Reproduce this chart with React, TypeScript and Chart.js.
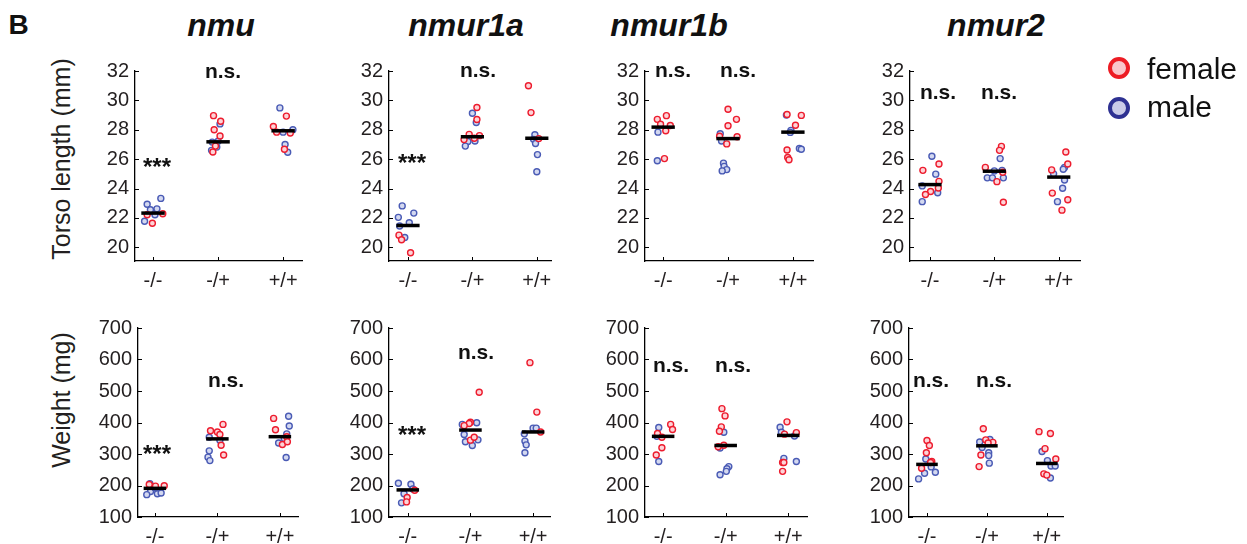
import React, { useEffect, useRef } from 'react';
import { Chart, registerables } from 'chart.js';

Chart.register(...registerables);

// ---------- data ----------
const genotypes = ['-/-', '-/+', '+/+'];
const torsoTicks = [20, 22, 24, 26, 28, 30, 32];
const weightTicks = [100, 200, 300, 400, 500, 600, 700];
const panelTitles = ['nmu', 'nmur1a', 'nmur1b', 'nmur2'];
const rowTitles = ['Torso length (mm)', 'Weight (mg)'];
const legendLabels = ['female', 'male'];

// nmu – torso length
const nmuTorsoFemale = [[22.22, 22.29, 21.64], [28.96, 28.58, 28.0, 27.58, 26.89, 26.49], [28.93, 28.22, 27.84, 27.78, 26.67]];
const nmuTorsoFemaleJitter = [[-0.09, 0.15, -0.01], [-0.07, 0.04, -0.06, 0.03, -0.04, -0.08], [0.05, -0.15, -0.1, 0.11, 0.02]];
const nmuTorsoMale = [[22.93, 23.33, 22.56, 22.62, 22.22, 21.78], [28.4, 27.16, 27.22, 26.6, 26.82], [29.49, 28.0, 27.0, 26.47, 27.84]];
const nmuTorsoMaleJitter = [[-0.09, 0.12, -0.04, 0.06, 0.03, -0.13], [0.03, -0.09, 0, -0.1, -0.02], [-0.05, 0.15, 0.03, 0.07, 0]];
const nmuTorsoMedian = [22.33, 27.18, 27.93];

// nmur1a – torso length
const nmur1aTorsoFemale = [[20.83, 20.52, 19.63], [29.52, 28.7, 27.69, 27.6, 27.33, 27.42], [31.0, 29.17, 27.4]];
const nmur1aTorsoFemaleJitter = [[-0.14, -0.1, 0.04], [0.07, 0.07, -0.05, 0.11, -0.13, 0.03], [-0.13, -0.09, 0.03]];
const nmur1aTorsoMale = [[22.82, 22.04, 22.33, 21.67, 21.45, 20.67], [29.12, 28.5, 27.2, 27.24, 26.89], [27.66, 27.35, 27.07, 26.31, 25.14]];
const nmur1aTorsoMaleJitter = [[-0.09, -0.15, 0.09, 0.02, -0.13, -0.05], [0, 0.06, -0.07, 0.04, -0.11], [-0.03, -0.05, -0.02, 0.01, 0]];
const nmur1aTorsoMedian = [21.49, 27.53, 27.42];

// nmur1b – torso length
const nmur1bTorsoFemale = [[28.71, 28.96, 28.38, 28.29, 27.93, 26.04], [29.4, 28.71, 28.27, 27.53, 27.56, 27.04], [29.04, 28.98, 28.31, 26.62, 26.11, 25.96]];
const nmur1bTorsoFemaleJitter = [[-0.09, 0.05, -0.04, 0.11, 0.04, 0.02], [0, 0.13, 0, 0.14, -0.13, -0.02], [-0.09, 0.13, 0.04, -0.09, -0.08, -0.06]];
const nmur1bTorsoMale = [[27.84, 25.89], [27.73, 27.24, 25.73, 25.51, 25.29, 25.2], [29.0, 27.96, 27.82, 26.73, 26.67]];
const nmur1bTorsoMaleJitter = [[-0.08, -0.09], [-0.12, -0.1, -0.07, -0.06, -0.02, -0.09], [-0.1, -0.03, -0.04, 0.1, 0.13]];
const nmur1bTorsoMedian = [28.18, 27.4, 27.84];

// nmur2 – torso length
const nmur2TorsoFemale = [[25.24, 25.67, 24.49, 24.04, 23.8, 23.6], [26.87, 26.6, 25.44, 25.11, 24.47, 23.07], [26.49, 25.67, 25.27, 23.69, 23.24, 22.53]];
const nmur2TorsoFemaleJitter = [[-0.11, 0.14, 0.14, 0.13, 0.01, -0.07], [0.11, 0.08, -0.14, 0.13, 0.04, 0.14], [0.11, 0.14, -0.11, -0.1, 0.14, 0.05]];
const nmur2TorsoMale = [[26.2, 24.98, 24.18, 23.71, 23.11], [26.04, 25.2, 25.24, 24.73, 24.73, 24.73], [25.44, 25.31, 25.0, 24.58, 24.02, 23.11]];
const nmur2TorsoMaleJitter = [[0.03, 0.09, -0.12, 0.12, -0.12], [0.09, 0, 0.12, -0.11, -0.03, 0.14], [0.09, 0.07, -0.08, 0.09, 0.06, -0.02]];
const nmur2TorsoMedian = [24.27, 25.18, 24.78];

// nmu – weight
const nmuWeightFemale = [[203, 198, 199], [394, 374, 370, 362, 328, 297], [413, 377, 355, 330, 339]];
const nmuWeightFemaleJitter = [[-0.09, 0.01, 0.15], [0.09, -0.11, 0, 0.04, 0.06, 0.1], [-0.1, -0.07, 0.11, 0.04, 0.12]];
const nmuWeightMale = [[206, 181, 171, 174, 176, 193], [353, 310, 290, 279, 344], [420, 389, 364, 335, 349, 289]];
const nmuWeightMaleJitter = [[-0.08, -0.07, -0.13, 0.04, 0.1, 0], [-0.13, -0.13, -0.15, -0.12, 0.04], [0.14, 0.15, 0.11, -0.02, 0.07, 0.1]];
const nmuWeightMedian = [191, 348, 355];

// nmur1a – weight
const nmur1aWeightFemale = [[162, 148, 185], [496, 401, 397, 390, 344, 353], [590, 433, 370]];
const nmur1aWeightFemaleJitter = [[-0.01, -0.02, 0.11], [0.14, 0, -0.02, -0.1, 0, 0.06], [-0.05, 0.06, 0.12]];
const nmur1aWeightMale = [[207, 204, 174, 145, 189], [394, 399, 362, 339, 345, 327], [382, 382, 364, 341, 329, 304]];
const nmur1aWeightMaleJitter = [[-0.15, 0.05, -0.06, -0.1, 0.08], [-0.13, 0.1, -0.1, -0.08, 0.12, 0.03], [0, 0.05, -0.14, -0.13, -0.11, -0.13]];
const nmur1aWeightMedian = [186, 376, 370];

// nmur1b – weight
const nmur1bWeightFemale = [[394, 378, 365, 353, 320, 297], [444, 421, 386, 372, 328, 323], [402, 363, 368, 273, 273, 245]];
const nmur1bWeightFemaleJitter = [[0.12, 0.15, -0.09, -0.02, -0.02, -0.11], [-0.06, -0.01, -0.07, -0.1, -0.03, -0.12], [-0.02, -0.06, 0.13, -0.09, -0.07, -0.09]];
const nmur1bWeightMale = [[384, 356, 276], [369, 319, 260, 253, 245, 234], [385, 369, 357, 286, 276]];
const nmur1bWeightMaleJitter = [[-0.07, -0.1, -0.07], [-0.03, -0.09, 0.05, 0.02, 0.01, -0.09], [-0.13, -0.11, 0.1, -0.07, 0.13]];
const nmur1bWeightMedian = [356, 327, 359];

// nmur2 – weight
const nmur2WeightFemale = [[343, 327, 304, 276, 273, 255], [380, 345, 337, 297, 260, 335], [371, 365, 317, 284, 237, 233]];
const nmur2WeightFemaleJitter = [[0, 0.04, -0.01, 0.08, 0.06, -0.09], [-0.06, -0.02, 0.1, -0.1, -0.13, 0.02], [-0.13, 0.06, -0.03, 0.15, -0.05, 0]];
const nmur2WeightMale = [[284, 259, 239, 242, 221], [346, 338, 321, 304, 295, 271], [308, 279, 262, 262, 224]];
const nmur2WeightMaleJitter = [[-0.02, 0.07, -0.04, 0.14, -0.14], [0.05, -0.12, -0.08, 0.03, 0.03, 0.04], [-0.08, 0.01, 0.07, 0.14, 0.06]];
const nmur2WeightMedian = [267, 326, 270];

// ---------- styles / layout ----------
const FONT = "'Liberation Sans', Arial, Helvetica, sans-serif";
const TEXT = '#231f20';
const FEMALE_STROKE = '#ed1c2e';
const FEMALE_FILL = '#fdd3d7';
const MALE_STROKE = '#4a5bb5';
const MALE_FILL = '#d3d8f0';

const YW = 50; // y-axis box width
const PT = 14; // top padding
const PR = 8; // right padding
const XH = 36; // x-axis box height

type Spec = {
  L: number; R: number; T: number; B: number;
  xmin: number; xmax: number; ymin: number; ymax: number;
  ticks: number[];
  female: number[][]; femaleJitter: number[][];
  male: number[][]; maleJitter: number[][];
  median: number[];
};

const TORSO = { ymin: 19.07, ymax: 32, ticks: torsoTicks };
const WEIGHT = { ymin: 100, ymax: 700, ticks: weightTicks };

const specs: Spec[] = [
  { L: 135, R: 302, T: 67, B: 261, xmin: 0.723, xmax: 3.29, ...TORSO, female: nmuTorsoFemale, femaleJitter: nmuTorsoFemaleJitter, male: nmuTorsoMale, maleJitter: nmuTorsoMaleJitter, median: nmuTorsoMedian },
  { L: 389, R: 552, T: 67, B: 261, xmin: 0.705, xmax: 3.23, ...TORSO, female: nmur1aTorsoFemale, femaleJitter: nmur1aTorsoFemaleJitter, male: nmur1aTorsoMale, maleJitter: nmur1aTorsoMaleJitter, median: nmur1aTorsoMedian },
  { L: 645, R: 813, T: 67, B: 261, xmin: 0.72, xmax: 3.31, ...TORSO, female: nmur1bTorsoFemale, femaleJitter: nmur1bTorsoFemaleJitter, male: nmur1bTorsoMale, maleJitter: nmur1bTorsoMaleJitter, median: nmur1bTorsoMedian },
  { L: 910, R: 1080, T: 67, B: 261, xmin: 0.69, xmax: 3.33, ...TORSO, female: nmur2TorsoFemale, femaleJitter: nmur2TorsoFemaleJitter, male: nmur2TorsoMale, maleJitter: nmur2TorsoMaleJitter, median: nmur2TorsoMedian },
  { L: 138, R: 298, T: 324, B: 517, xmin: 0.73, xmax: 3.29, ...WEIGHT, female: nmuWeightFemale, femaleJitter: nmuWeightFemaleJitter, male: nmuWeightMale, maleJitter: nmuWeightMaleJitter, median: nmuWeightMedian },
  { L: 389, R: 550, T: 324, B: 517, xmin: 0.7, xmax: 3.27, ...WEIGHT, female: nmur1aWeightFemale, femaleJitter: nmur1aWeightFemaleJitter, male: nmur1aWeightMale, maleJitter: nmur1aWeightMaleJitter, median: nmur1aWeightMedian },
  { L: 645, R: 807, T: 324, B: 517, xmin: 0.71, xmax: 3.3, ...WEIGHT, female: nmur1bWeightFemale, femaleJitter: nmur1bWeightFemaleJitter, male: nmur1bWeightMale, maleJitter: nmur1bWeightMaleJitter, median: nmur1bWeightMedian },
  { L: 909, R: 1063, T: 324, B: 517, xmin: 0.7, xmax: 3.27, ...WEIGHT, female: nmur2WeightFemale, femaleJitter: nmur2WeightFemaleJitter, male: nmur2WeightMale, maleJitter: nmur2WeightMaleJitter, median: nmur2WeightMedian },
];

const inwardTicks = {
  id: 'inwardTicks',
  afterDraw(chart: any) {
    const { ctx, chartArea, scales } = chart;
    const x = scales.x;
    const y = scales.y;
    ctx.save();
    ctx.strokeStyle = '#000';
    ctx.lineWidth = 1;
    for (const t of y.ticks) {
      const py = Math.round(y.getPixelForValue(t.value)) + 0.5;
      ctx.beginPath();
      ctx.moveTo(chartArea.left, py);
      ctx.lineTo(chartArea.left + 4, py);
      ctx.stroke();
    }
    for (const t of x.ticks) {
      const px = Math.round(x.getPixelForValue(t.value)) + 0.5;
      ctx.beginPath();
      ctx.moveTo(px, chartArea.bottom);
      ctx.lineTo(px, chartArea.bottom - 4);
      ctx.stroke();
    }
    ctx.restore();
  },
};

function toPoints(values: number[][], jitter: number[][]) {
  const pts: { x: number; y: number }[] = [];
  values.forEach((group, g) => {
    group.forEach((v, i) => pts.push({ x: g + 1 + (jitter[g][i] ?? 0), y: v }));
  });
  return pts;
}

function Panel({ spec }: { spec: Spec }) {
  const ref = useRef<HTMLCanvasElement>(null);
  const w = spec.R - spec.L + YW + PR;
  const h = spec.B - spec.T + PT + XH;

  useEffect(() => {
    if (!ref.current) return;
    const medianSets = spec.median.map((m, g) => ({
      type: 'line' as const,
      data: [
        { x: g + 1 - 0.18, y: m },
        { x: g + 1 + 0.18, y: m },
      ],
      borderColor: '#000',
      borderWidth: 3.5,
      borderCapStyle: 'butt' as const,
      pointRadius: 0,
      showLine: true,
      fill: false,
      order: 0,
    }));
    const chart = new Chart(ref.current, {
      type: 'scatter',
      data: {
        datasets: [
          {
            data: toPoints(spec.male, spec.maleJitter),
            pointRadius: 3,
            pointBorderWidth: 1.4,
            pointBorderColor: MALE_STROKE,
            pointBackgroundColor: MALE_FILL,
            order: 2,
          },
          {
            data: toPoints(spec.female, spec.femaleJitter),
            pointRadius: 3,
            pointBorderWidth: 1.4,
            pointBorderColor: FEMALE_STROKE,
            pointBackgroundColor: FEMALE_FILL,
            order: 1,
          },
          ...medianSets,
        ] as any,
      },
      options: {
        responsive: false,
        animation: false,
        devicePixelRatio: 1,
        layout: { padding: { top: PT, right: PR, left: 0, bottom: 0 } },
        plugins: { legend: { display: false }, tooltip: { enabled: false } },
        events: [],
        scales: {
          x: {
            type: 'linear',
            min: spec.xmin,
            max: spec.xmax,
            afterBuildTicks: (s: any) => {
              s.ticks = [1, 2, 3].map((v) => ({ value: v }));
            },
            afterFit: (s: any) => {
              s.height = XH;
            },
            grid: { display: false, drawTicks: false },
            border: { display: true, color: '#000', width: 1.3 },
            ticks: {
              padding: 8,
              color: TEXT,
              autoSkip: false,
              maxRotation: 0,
              font: { family: FONT, size: 20 },
              callback: (v: any) => genotypes[Math.round(Number(v)) - 1] ?? '',
            },
          },
          y: {
            type: 'linear',
            min: spec.ymin,
            max: spec.ymax,
            afterBuildTicks: (s: any) => {
              s.ticks = spec.ticks.map((v) => ({ value: v }));
            },
            afterFit: (s: any) => {
              s.width = YW;
            },
            grid: { display: false, drawTicks: false },
            border: { display: true, color: '#000', width: 1.3 },
            ticks: {
              padding: 6,
              color: TEXT,
              autoSkip: false,
              font: { family: FONT, size: 20 },
            },
          },
        },
      } as any,
      plugins: [inwardTicks],
    });
    return () => chart.destroy();
  }, [spec]);

  return (
    <canvas
      ref={ref}
      width={w}
      height={h}
      style={{ position: 'absolute', left: spec.L - YW, top: spec.T - PT, width: w, height: h }}
    />
  );
}

// text placed by baseline (Liberation Sans: baseline at 0.847em with line-height 1)
function Label({ text, x, baseline, size, bold, italic, align }: any) {
  return (
    <div
      style={{
        position: 'absolute',
        left: x,
        top: baseline - 0.847 * size,
        fontSize: size,
        lineHeight: `${size}px`,
        fontWeight: bold ? 'bold' : 'normal',
        fontStyle: italic ? 'italic' : 'normal',
        transform: align === 'left' ? 'none' : 'translateX(-50%)',
        whiteSpace: 'nowrap',
        color: '#111',
      }}
    >
      {text}
    </div>
  );
}

const titleX = [221, 466, 669, 996];
const nsMarks = [
  [223, 78], [478, 77], [673, 77], [738, 77], [938, 99], [999, 99],
  [226, 387], [476, 359], [671, 372], [733, 372], [931, 387], [994, 387],
];
const starMarks = [[157, 162], [412, 158], [157, 449], [412, 430]];

export default function App() {
  return (
    <div
      style={{
        position: 'absolute',
        left: 0,
        top: 0,
        width: 1247,
        height: 544,
        overflow: 'hidden',
        background: '#fff',
        fontFamily: FONT,
      }}
    >
      {specs.map((s, i) => (
        <Panel key={i} spec={s} />
      ))}
      <Label text="B" x={8.5} baseline={35} size={28} bold align="left" />
      {panelTitles.map((t, i) => (
        <Label key={t} text={t} x={titleX[i]} baseline={36} size={32} bold italic />
      ))}
      {nsMarks.map(([x, b], i) => (
        <Label key={'ns' + i} text="n.s." x={x} baseline={b} size={21} bold />
      ))}
      {starMarks.map(([x, c], i) => (
        <Label key={'st' + i} text="***" x={x} baseline={c + 13} size={24} bold />
      ))}
      {rowTitles.map((t, i) => (
        <div
          key={t}
          style={{
            position: 'absolute',
            left: 61,
            top: i === 0 ? 159 : 400,
            fontSize: 25,
            lineHeight: '25px',
            whiteSpace: 'nowrap',
            color: '#231f20',
            transform: 'translate(-50%, -50%) rotate(-90deg)',
          }}
        >
          {t}
        </div>
      ))}
      {legendLabels.map((t, i) => (
        <React.Fragment key={t}>
          <div
            style={{
              position: 'absolute',
              left: 1119 - 11,
              top: (i === 0 ? 68 : 108) - 11,
              width: 22,
              height: 22,
              boxSizing: 'border-box',
              borderRadius: '50%',
              border: `4.5px solid ${i === 0 ? '#ed1c24' : '#2e3192'}`,
              background: i === 0 ? '#f9c6cb' : '#cacbe8',
            }}
          />
          <Label text={t} x={1147} baseline={i === 0 ? 79 : 117} size={30} align="left" />
        </React.Fragment>
      ))}
    </div>
  );
}
